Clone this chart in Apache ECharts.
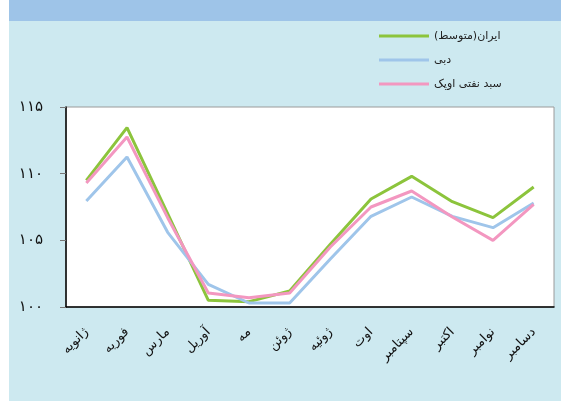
<!DOCTYPE html>
<html>
<head>
<meta charset="utf-8">
<script src="https://cdn.jsdelivr.net/npm/echarts@6/dist/echarts.min.js"></script>
<style>
  html, body { margin: 0; padding: 0; background: #fff; }
  #chart { width: 561px; height: 401px; }
</style>
</head>
<body>
<div id="chart"></div>
<script>
// ماه‌ها و قیمت‌ها
const months = ['ژانویه', 'فوریه', 'مارس', 'آوریل', 'مه', 'ژوئن', 'ژوئیه', 'اوت', 'سپتامبر', 'اکتبر', 'نوامبر', 'دسامبر']
const iranAvg = [109.5, 113.45, 107.0, 100.5, 100.4, 101.2, 104.7, 108.1, 109.8, 107.9, 106.7, 109.0]
const dubai = [107.95, 111.25, 105.6, 101.7, 100.3, 100.3, 103.6, 106.8, 108.25, 106.8, 105.95, 107.8]
const opecBasket = [109.3, 112.75, 106.7, 101.05, 100.7, 101.05, 104.5, 107.5, 108.7, 106.75, 105.0, 107.7]
const seriesNames = ['ایران(متوسط)', 'دبی', 'سبد نفتی اوپک']
const seriesColors = ['#8cc43c', '#9fc5ea', '#f397c0']
const yTicks = [100, 105, 110, 115]
const yTickLabels = ['۱۰۰', '۱۰۵', '۱۱۰', '۱۱۵']

const font = 'DejaVu Sans'
const myChart = echarts.init(document.getElementById('chart'))

const option = {
  backgroundColor: '#cde9f0',
  animation: false,
  graphic: [
    // نوار آبی بالا و حاشیه سفید چپ
    { type: 'rect', left: 0, top: 0, shape: { width: 9, height: 401 }, style: { fill: '#ffffff' } },
    { type: 'rect', left: 9, top: 0, shape: { width: 552, height: 21 }, style: { fill: '#9ec4e8' } }
  ],
  grid: {
    left: 66,
    right: 7,
    top: 107,
    bottom: 94,
    containLabel: false,
    show: true,
    backgroundColor: '#ffffff',
    borderColor: '#9a9a9a',
    borderWidth: 1
  },
  legend: {
    orient: 'vertical',
    left: 379,
    top: 29,
    padding: 0,
    icon: 'rect',
    itemWidth: 50,
    itemHeight: 3,
    itemGap: 10,
    // علامت RLM برای نمایش درست پرانتز
    formatter: name => name + '\u200F',
    textStyle: { fontFamily: font, fontSize: 11, color: '#222', lineHeight: 14 },
    data: seriesNames
  },
  xAxis: {
    type: 'category',
    data: months,
    boundaryGap: true,
    axisLine: { lineStyle: { color: '#000', width: 1.5 } },
    axisTick: { length: 5, lineStyle: { color: '#777' } },
    axisLabel: { rotate: 45, margin: 23, fontFamily: font, fontSize: 13, color: '#111', interval: 0 },
    splitLine: { show: false }
  },
  yAxis: {
    type: 'value',
    min: 100,
    max: 115,
    interval: 5,
    axisLine: { show: true, lineStyle: { color: '#000', width: 1.5 } },
    axisTick: { show: true, length: 6, lineStyle: { color: '#777' } },
    axisLabel: {
      margin: 23,
      fontFamily: font,
      fontSize: 15,
      color: '#111',
      formatter: v => yTickLabels[yTicks.indexOf(v)]
    },
    splitLine: { show: false }
  },
  series: [
    { name: seriesNames[0], type: 'line', data: iranAvg, symbol: 'none', lineStyle: { width: 3, color: seriesColors[0] }, itemStyle: { color: seriesColors[0] } },
    { name: seriesNames[1], type: 'line', data: dubai, symbol: 'none', lineStyle: { width: 3, color: seriesColors[1] }, itemStyle: { color: seriesColors[1] } },
    { name: seriesNames[2], type: 'line', data: opecBasket, symbol: 'none', lineStyle: { width: 3, color: seriesColors[2] }, itemStyle: { color: seriesColors[2] } }
  ]
}
myChart.setOption(option)
</script>
</body>
</html>
